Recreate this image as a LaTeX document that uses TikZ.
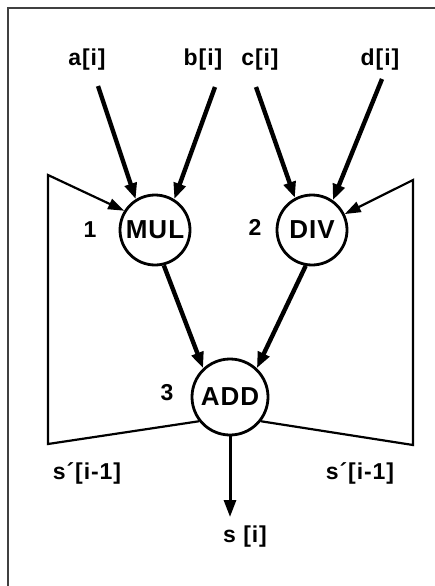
\documentclass[tikz,border=0pt]{standalone}
\usepackage{fontspec}
\setmainfont{Liberation Sans}
\newfontfamily\spaced[LetterSpace=4]{Liberation Sans}
\usetikzlibrary{arrows.meta}
\begin{document}
\begin{tikzpicture}[x=1pt,y=-1pt,
  op/.style={circle,draw,line width=2.8pt,minimum size=70pt,inner sep=0pt,font=\spaced\fontsize{26}{26}\selectfont\bfseries},
  lab/.style={font=\spaced\fontsize{23}{23}\selectfont\bfseries,inner sep=0pt},
  inarrow/.style={line width=4.4pt,-{Triangle[length=16pt,width=12pt]}},
  loop/.style={line width=2.2pt,-{Triangle[length=16pt,width=11pt]}},
  outarrow/.style={line width=3pt,-{Triangle[length=17pt,width=12pt]}}]
\useasboundingbox (0,0) rectangle (435,586);
\fill[white] (0,0) rectangle (435,586);
% frame
\draw[line width=1.8pt,black!75] (8,586) -- (8,8) -- (435,8);
% operator nodes
\node[op] (mul) at (155,230) {MUL};
\node[op] (div) at (312,230) {DIV};
\node[op,minimum size=76pt] (add) at (230,397) {ADD};
% numbers
\node[lab] (n1) at (90,230) {1};
\node[lab] (n2) at (255,227) {2};
\node[lab] (n3) at (167,393) {3};
% input labels
\node[lab] (la) at (87,60) {a[i]};
\node[lab] (lb) at (203,60) {b[i]};
\node[lab] (lc) at (260,60) {c[i]};
\node[lab] (ld) at (380,60) {d[i]};
\coordinate (sa) at (98,86);
\coordinate (sb) at (215,87);
\coordinate (sc) at (256,87);
\coordinate (sd) at (382,79);
\draw[inarrow] (sa) -- (mul.122);
\draw[inarrow] (sb) -- (mul.58);
\draw[inarrow] (sc) -- (div.118);
\draw[inarrow] (sd) -- (div.55);
% to ADD
\draw[inarrow] (mul.-76) -- (add.133);
\draw[inarrow] (div.-100) -- (add.47);
% feedback loops
\coordinate (lb1) at (48,444);
\coordinate (lt1) at (48,175);
\coordinate (rb1) at (413,445);
\coordinate (rt1) at (413,180);
\draw[loop] (add.-142) -- (lb1) -- (lt1) -- (mul.148);
\draw[loop] (add.-38) -- (rb1) -- (rt1) -- (div.26);
% output
\coordinate (out) at (230,517);
\draw[outarrow] (add.south) -- (out);
\node[lab] (ls) at (245,537) {s [i]};
\node[lab] (lp1) at (87,473) {s´[i-1]};
\node[lab] (lp2) at (360,473) {s´[i-1]};
\end{tikzpicture}
\end{document}
